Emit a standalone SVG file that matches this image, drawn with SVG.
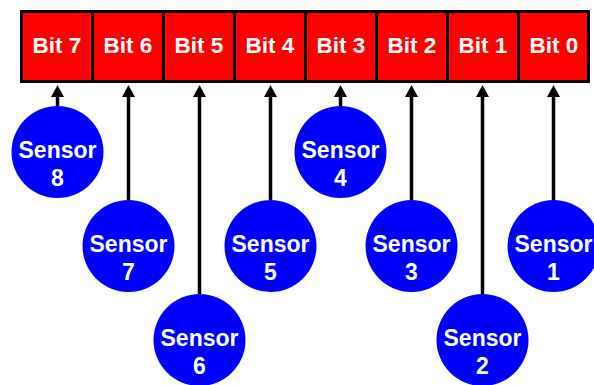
<svg xmlns="http://www.w3.org/2000/svg" width="594" height="385" viewBox="0 0 594 385">
<style>
.cell{fill:#ff0000;stroke:#000;stroke-width:3}
.bt{fill:#fff;font-family:"Liberation Sans",Arial,sans-serif;font-weight:bold;font-size:22.5px;text-anchor:middle}
.sn{fill:#0000ff}
.st{fill:#fff;font-family:"Liberation Sans",Arial,sans-serif;font-weight:bold;font-size:23px;text-anchor:middle}
.wire{stroke:#000;stroke-width:3.5;fill:none}
</style>
<defs>
<marker id="ah" markerUnits="userSpaceOnUse" markerWidth="14" markerHeight="14" viewBox="0 0 14 14" refX="1" refY="6.5" orient="auto">
<path d="M0,0 L12,6.5 L0,13 Z" fill="#000"/>
</marker>
</defs>
<g id="register">
<g id="bit7"><rect class="cell" x="21.5" y="11.5" width="71" height="70"/><text class="bt" x="57" y="53">Bit 7</text></g>
<g id="bit6"><rect class="cell" x="92.5" y="11.5" width="71" height="70"/><text class="bt" x="128" y="53">Bit 6</text></g>
<g id="bit5"><rect class="cell" x="163.5" y="11.5" width="71" height="70"/><text class="bt" x="199" y="53">Bit 5</text></g>
<g id="bit4"><rect class="cell" x="234.5" y="11.5" width="71" height="70"/><text class="bt" x="270" y="53">Bit 4</text></g>
<g id="bit3"><rect class="cell" x="305.5" y="11.5" width="71" height="70"/><text class="bt" x="341" y="53">Bit 3</text></g>
<g id="bit2"><rect class="cell" x="376.5" y="11.5" width="71" height="70"/><text class="bt" x="412" y="53">Bit 2</text></g>
<g id="bit1"><rect class="cell" x="447.5" y="11.5" width="71" height="70"/><text class="bt" x="483" y="53">Bit 1</text></g>
<g id="bit0"><rect class="cell" x="518.5" y="11.5" width="70" height="70"/><text class="bt" x="554" y="53">Bit 0</text></g>
</g>
<g id="connectors">
<line class="wire" x1="57.5" y1="106" x2="57.5" y2="96" marker-end="url(#ah)"/>
<line class="wire" x1="128.5" y1="200" x2="128.5" y2="96" marker-end="url(#ah)"/>
<line class="wire" x1="199.5" y1="294" x2="199.5" y2="96" marker-end="url(#ah)"/>
<line class="wire" x1="270.5" y1="200" x2="270.5" y2="96" marker-end="url(#ah)"/>
<line class="wire" x1="340.5" y1="106" x2="340.5" y2="96" marker-end="url(#ah)"/>
<line class="wire" x1="411.5" y1="200" x2="411.5" y2="96" marker-end="url(#ah)"/>
<line class="wire" x1="482.5" y1="294" x2="482.5" y2="96" marker-end="url(#ah)"/>
<line class="wire" x1="553.5" y1="200" x2="553.5" y2="96" marker-end="url(#ah)"/>
</g>
<g id="sensor8"><circle class="sn" cx="57.5" cy="152" r="46"/><text class="st" x="57.5" y="158">Sensor</text><text class="st" x="57.5" y="186">8</text></g>
<g id="sensor7"><circle class="sn" cx="128.5" cy="246" r="46"/><text class="st" x="128.5" y="252">Sensor</text><text class="st" x="128.5" y="280">7</text></g>
<g id="sensor6"><circle class="sn" cx="199.5" cy="340" r="46"/><text class="st" x="199.5" y="346">Sensor</text><text class="st" x="199.5" y="374">6</text></g>
<g id="sensor5"><circle class="sn" cx="270.5" cy="246" r="46"/><text class="st" x="270.5" y="252">Sensor</text><text class="st" x="270.5" y="280">5</text></g>
<g id="sensor4"><circle class="sn" cx="340.5" cy="152" r="46"/><text class="st" x="340.5" y="158">Sensor</text><text class="st" x="340.5" y="186">4</text></g>
<g id="sensor3"><circle class="sn" cx="411.5" cy="246" r="46"/><text class="st" x="411.5" y="252">Sensor</text><text class="st" x="411.5" y="280">3</text></g>
<g id="sensor2"><circle class="sn" cx="482.5" cy="340" r="46"/><text class="st" x="482.5" y="346">Sensor</text><text class="st" x="482.5" y="374">2</text></g>
<g id="sensor1"><circle class="sn" cx="553.5" cy="246" r="46"/><text class="st" x="553.5" y="252">Sensor</text><text class="st" x="553.5" y="280">1</text></g>
</svg>
